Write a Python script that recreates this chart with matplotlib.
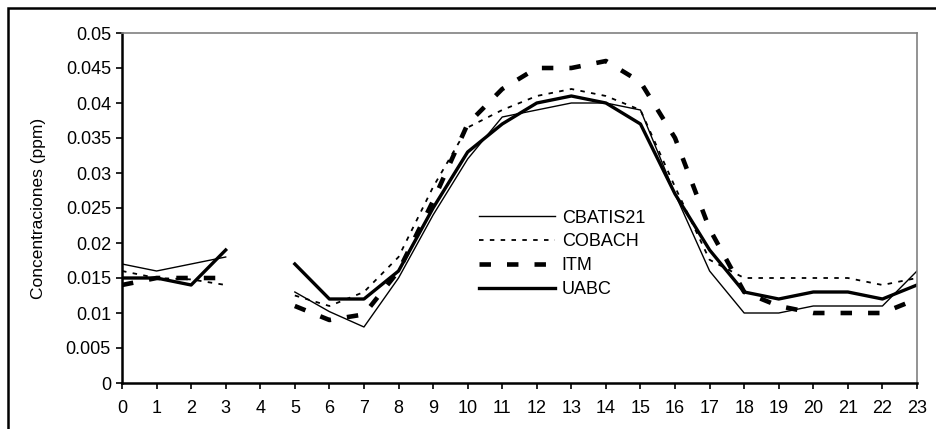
import numpy as np
import matplotlib
matplotlib.use("Agg")
import matplotlib.pyplot as plt
from matplotlib.patches import Rectangle

plt.rcParams['font.family'] = ['Liberation Sans', 'DejaVu Sans']

# horas del día
horas = list(range(24))
nan = np.nan

cbatis21 = [0.017, 0.016, 0.017, 0.018, nan, 0.013, 0.0102, 0.008, 0.015, 0.024,
            0.032, 0.038, 0.039, 0.040, 0.040, 0.039, 0.027, 0.016, 0.010, 0.010,
            0.011, 0.011, 0.011, 0.016]
cobach = [0.016, 0.015, 0.0148, 0.014, nan, 0.0125, 0.011, 0.013, 0.018, 0.028,
          0.0365, 0.039, 0.041, 0.042, 0.041, 0.039, 0.028, 0.0176, 0.015, 0.015,
          0.015, 0.015, 0.014, 0.015]
itm = [0.014, 0.015, 0.015, 0.015, nan, 0.011, 0.009, 0.0098, 0.016, 0.026,
       0.037, 0.042, 0.045, 0.045, 0.046, 0.043, 0.035, 0.022, 0.013, 0.011,
       0.010, 0.010, 0.010, 0.012]
uabc = [0.015, 0.015, 0.014, 0.019, nan, 0.017, 0.012, 0.012, 0.016, 0.025,
        0.033, 0.037, 0.040, 0.041, 0.040, 0.037, 0.027, 0.019, 0.013, 0.012,
        0.013, 0.013, 0.012, 0.014]

fig = plt.figure(figsize=(9.37, 4.29), dpi=100)
ax = fig.add_axes([122/937, 1 - 383/429, 795/937, 350/429])

ax.plot(horas, cbatis21, color='black', lw=1.0, label='CBATIS21')
ax.plot(horas, cobach, color='black', lw=1.3, dashes=(2.5, 3.5), label='COBACH')
ax.plot(horas, itm, color='black', lw=3.3, dashes=(2.5, 3.5), label='ITM')
ax.plot(horas, uabc, color='black', lw=2.4, label='UABC')

ax.set_xlim(0, 23)
ax.set_ylim(0, 0.05)
ax.set_xticks(horas)
ax.set_yticks(np.arange(0, 0.0501, 0.005))
ax.set_yticklabels(['0', '0.005', '0.01', '0.015', '0.02', '0.025',
                    '0.03', '0.035', '0.04', '0.045', '0.05'])
ax.tick_params(direction='out', length=4, width=1.2, labelsize=13, pad=4)
ax.tick_params(axis='x', pad=8)
ax.set_ylabel('Concentraciones (ppm)', fontsize=12.5, labelpad=14)

for s in ['left', 'bottom']:
    ax.spines[s].set_linewidth(1.8)
    ax.spines[s].set_color('black')
for s in ['top', 'right']:
    ax.spines[s].set_linewidth(1.2)
    ax.spines[s].set_color('#808080')

ax.legend(loc='upper left', bbox_to_anchor=(0.4397, 0.516), frameon=False,
          fontsize=13, handlelength=4.2, handletextpad=0.4, labelspacing=0.38,
          borderaxespad=0)

# marco exterior
fig.patches.append(Rectangle((8/937, -0.2), 1.2, 1.2 - 8/429,
                             transform=fig.transFigure, fill=False,
                             edgecolor='black', lw=1.8))

fig.savefig('out.png', dpi=100)
